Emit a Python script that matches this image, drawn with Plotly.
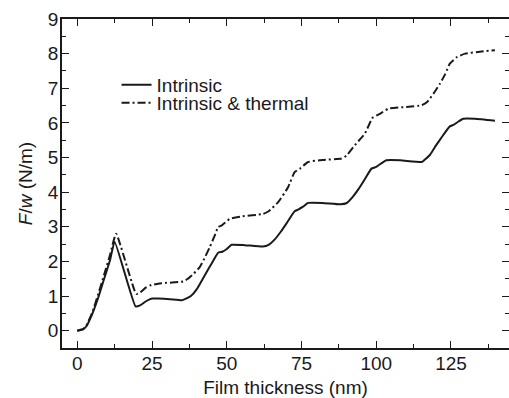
import plotly.graph_objects as go

# Film stress per unit width vs. film thickness
thickness_intrinsic = [0, 2, 3, 5, 7, 9, 11, 12.5, 19.5, 21, 23, 25, 27, 31, 35, 36,
                       38, 40, 42, 44, 46, 47.1, 48.5, 50, 51.6, 56, 62.1, 64, 66, 68,
                       70, 72.7, 74, 75.5, 77.2, 82, 88, 90, 92, 94, 96, 98.4, 100,
                       101.5, 103.4, 108, 115.2, 116, 118, 120, 122, 124.6, 126, 127.5,
                       129.1, 133, 139.7]
force_intrinsic = [0, 0.04, 0.12, 0.48, 0.95, 1.5, 2.05, 2.57, 0.70, 0.73, 0.85, 0.93,
                   0.93, 0.91, 0.88, 0.91, 1.0, 1.2, 1.5, 1.8, 2.1, 2.25, 2.28, 2.36,
                   2.48, 2.47, 2.43, 2.48, 2.63, 2.85, 3.1, 3.45, 3.5, 3.58, 3.69, 3.69,
                   3.65, 3.68, 3.85, 4.08, 4.35, 4.68, 4.73, 4.82, 4.92, 4.92, 4.87,
                   4.92, 5.08, 5.35, 5.6, 5.9, 5.95, 6.04, 6.12, 6.12, 6.06]

thickness_thermal = [0, 2, 3, 5, 7, 9, 11, 13, 19.7, 21, 23, 24.8, 28.1, 35.4, 37, 39,
                     40.9, 42.5, 44.3, 46, 47.1, 48.5, 51, 55, 62.1, 64, 67.2, 70.5,
                     72.7, 74.5, 77.2, 82, 88.4, 90, 92.3, 94.5, 96.2, 98.8, 101,
                     104, 110, 115.2, 117, 119.1, 121.3, 123, 124.6, 127, 129.7, 134,
                     139.7]
force_thermal = [0, 0.05, 0.14, 0.52, 1.05, 1.62, 2.2, 2.8, 1.06, 1.1, 1.25, 1.32,
                 1.37, 1.42, 1.5, 1.65, 1.83, 2.08, 2.41, 2.75, 2.99, 3.05, 3.23, 3.3,
                 3.37, 3.45, 3.71, 4.14, 4.58, 4.68, 4.87, 4.93, 4.97, 5.05, 5.3, 5.52,
                 5.69, 6.15, 6.25, 6.41, 6.46, 6.51, 6.6, 6.84, 7.13, 7.4, 7.71, 7.9,
                 8.0, 8.05, 8.1]

series_names = ["Intrinsic", "Intrinsic &amp; thermal"]

FONT = "Liberation Sans, Arial, sans-serif"
FS = 19
INK = "#1a1a1a"
X_RANGE = [-5.1, 144.4]
Y_RANGE = [-0.5, 9]

fig = go.Figure()
fig.add_trace(go.Scatter(
    x=thickness_intrinsic, y=force_intrinsic, mode="lines", name=series_names[0],
    line=dict(color=INK, width=2, shape="spline", smoothing=0.4), legend="legend"))
fig.add_trace(go.Scatter(
    x=thickness_thermal, y=force_thermal, mode="lines", name=series_names[1],
    line=dict(color=INK, width=2, dash="8px,3px,2px,3px", shape="spline", smoothing=0.4),
    legend="legend2"))
# carrier trace for the right-hand tick axis
fig.add_trace(go.Scatter(x=[None], y=[None], yaxis="y2", showlegend=False,
                         hoverinfo="skip"))

minor_ticks = dict(ticks="inside", ticklen=4, tickcolor=INK, tickwidth=1.2)
axis_common = dict(showgrid=False, zeroline=False, ticks="inside", tickcolor=INK,
                   linecolor=INK, linewidth=1.5, ticklen=7, tickwidth=1.2,
                   tickfont=dict(family=FONT, size=FS, color=INK))

fig.update_layout(
    width=509, height=398,
    margin=dict(l=62, r=0, t=19, b=50),
    paper_bgcolor="white", plot_bgcolor="white",
    font=dict(family=FONT, size=FS, color=INK),
    xaxis=dict(**axis_common, range=X_RANGE, tick0=0, dtick=25, showline=True,
               mirror="ticks", ticklabelstandoff=-3,
               minor=dict(dtick=12.5, tick0=0, **minor_ticks),
               title=dict(text="Film thickness (nm)", standoff=8,
                          font=dict(family=FONT, size=FS, color=INK))),
    yaxis=dict(**axis_common, range=Y_RANGE, tick0=0, dtick=1, showline=True,
               mirror=False, ticklabelstandoff=-2,
               minor=dict(dtick=0.5, tick0=0, **minor_ticks),
               title=dict(text="<i>F</i>/<i>w</i> (N/m)", standoff=10,
                          font=dict(family=FONT, size=FS, color=INK))),
    yaxis2=dict(overlaying="y", side="right", range=Y_RANGE, tick0=0, dtick=1,
                showline=False, showgrid=False, zeroline=False, ticks="inside",
                ticklen=7, tickwidth=1.2, tickcolor=INK, showticklabels=False,
                minor=dict(dtick=0.5, tick0=0, **minor_ticks)),
    legend=dict(x=0.122, y=0.80, xanchor="left", yanchor="middle",
                bgcolor="rgba(0,0,0,0)", font=dict(family=FONT, size=FS, color=INK)),
    legend2=dict(x=0.122, y=0.745, xanchor="left", yanchor="middle",
                 bgcolor="rgba(0,0,0,0)", font=dict(family=FONT, size=FS, color=INK)),
)

fig.write_html("out.html")
